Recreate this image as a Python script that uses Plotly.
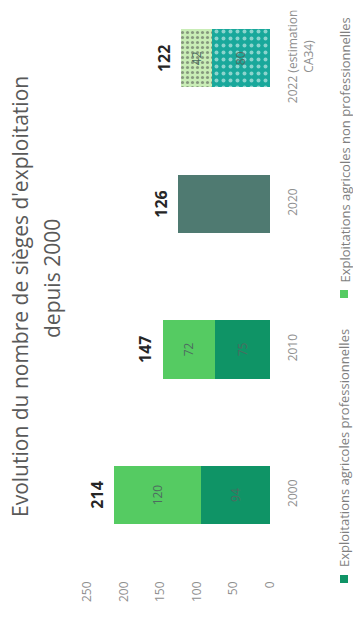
import plotly.graph_objects as go

# ---- data ----
categories = ["2000", "2010", "2020", "2022"]
tick_labels = ["2000", "2010", "2020", "2022 (estimation<br>CA34)"]
pro_values = [94, 75, None, 80]          # Exploitations agricoles professionnelles
nonpro_values = [120, 72, None, 42]      # Exploitations agricoles non professionnelles
total_2020 = [None, None, 126, None]     # 2020 (pas de détail)
totals = [214, 147, 126, 122]
series_names = ["Exploitations agricoles professionnelles",
                "Exploitations agricoles non professionnelles"]
value_ticks = [0, 50, 100, 150, 200, 250]
title_lines = ["Evolution du nombre de sièges d'exploitation", "depuis 2000"]

# ---- geometry helpers (figure pixels -> paper coords) ----
W, H = 353, 617
ML, MR, MT, MB = 80, 83, 0, 39
PW, PH = W - ML - MR, H - MT - MB


def px(x):
    return (x - ML) / PW


def py(y):
    return (H - MB - y) / PH


DARK = "#0f9466"
LIGHT = "#55cb62"
GREY = "#4f7a71"
TEAL = "#19a89b"
PALE = "#c9edb6"
INNER = "#4d6b60"
FONT = "Open Sans"


def txt(vals):
    return ["" if v is None else str(v) for v in vals]


fig = go.Figure()
fig.add_trace(go.Bar(
    y=categories, x=pro_values, orientation="h", name=series_names[0],
    width=0.4,
    marker=dict(color=[DARK, DARK, DARK, TEAL], line=dict(width=0),
                pattern=dict(shape=["", "", "", "."],
                             bgcolor=[DARK, DARK, DARK, TEAL],
                             fgcolor=["white"] * 4, size=7, solidity=0.25,
                             fillmode="overlay")),
    text=txt(pro_values), textposition="inside", insidetextanchor="middle",
    textangle=-90, constraintext="none",
    textfont=dict(family=FONT, size=12, color=INNER),
    showlegend=False, hoverinfo="skip"))
fig.add_trace(go.Bar(
    y=categories, x=nonpro_values, orientation="h", name=series_names[1],
    width=0.4,
    marker=dict(color=[LIGHT, LIGHT, LIGHT, PALE], line=dict(width=0),
                pattern=dict(shape=["", "", "", "."],
                             bgcolor=[LIGHT, LIGHT, LIGHT, PALE],
                             fgcolor=["#f4fcef"] * 4, size=5, solidity=0.3,
                             fillmode="overlay")),
    text=txt(nonpro_values), textposition="inside", insidetextanchor="middle",
    textangle=-90, constraintext="none",
    textfont=dict(family=FONT, size=12, color=INNER),
    showlegend=False, hoverinfo="skip"))
fig.add_trace(go.Bar(
    y=categories, x=total_2020, orientation="h", name="2020",
    width=0.4, marker=dict(color=GREY, line=dict(width=0)),
    showlegend=False, hoverinfo="skip"))

annotations = []
for i, t in enumerate(totals):
    annotations.append(dict(
        x=t, y=i, xref="x", yref="y", text=f"<b>{t}</b>", showarrow=False,
        textangle=-90, xanchor="right", yanchor="middle", xshift=-4,
        font=dict(family=FONT, size=16, color="#262626")))

# title (rotated)
annotations.append(dict(x=px(20), y=py(297), xref="paper", yref="paper",
                        text=title_lines[0], showarrow=False, textangle=-90,
                        xanchor="center", yanchor="middle",
                        font=dict(family=FONT, size=21, color="#595959")))
annotations.append(dict(x=px(52), y=py(279), xref="paper", yref="paper",
                        text=title_lines[1], showarrow=False, textangle=-90,
                        xanchor="center", yanchor="middle",
                        font=dict(family=FONT, size=21, color="#595959")))

# legend (rotated)
shapes = []
legend_items = [(series_names[0], DARK, 579, 569), (series_names[1], LIGHT, 294, 285)]
for name, col, sq_y, txt_y in legend_items:
    shapes.append(dict(type="rect", xref="paper", yref="paper",
                       x0=px(340), x1=px(348), y0=py(sq_y + 4), y1=py(sq_y - 4),
                       fillcolor=col, line=dict(width=0)))
    annotations.append(dict(x=px(344), y=py(txt_y), xref="paper", yref="paper",
                            text=name, showarrow=False, textangle=-90,
                            xanchor="center", yanchor="bottom",
                            font=dict(family=FONT, size=13, color="#7f7f7f")))

fig.update_layout(
    width=W, height=H,
    margin=dict(l=ML, r=MR, t=MT, b=MB, pad=0),
    barmode="stack",
    paper_bgcolor="white", plot_bgcolor="white",
    xaxis=dict(range=[260, 0], tickvals=value_ticks, tickangle=-90,
               showgrid=False, zeroline=False, showline=False,
               ticks="", automargin=False, fixedrange=True,
               tickfont=dict(family=FONT, size=12, color="#8f8f8f")),
    yaxis=dict(type="category", categoryorder="array", categoryarray=categories,
               tickvals=categories, ticktext=tick_labels,
               range=[-0.57, 3.40], side="right", tickangle=-90,
               showgrid=False, zeroline=False, showline=False,
               ticks="", ticklabelstandoff=14, automargin=False,
               tickfont=dict(family=FONT, size=12, color="#8f8f8f")),
    annotations=annotations, shapes=shapes,
    showlegend=False,
)

fig.write_html("out.html")
